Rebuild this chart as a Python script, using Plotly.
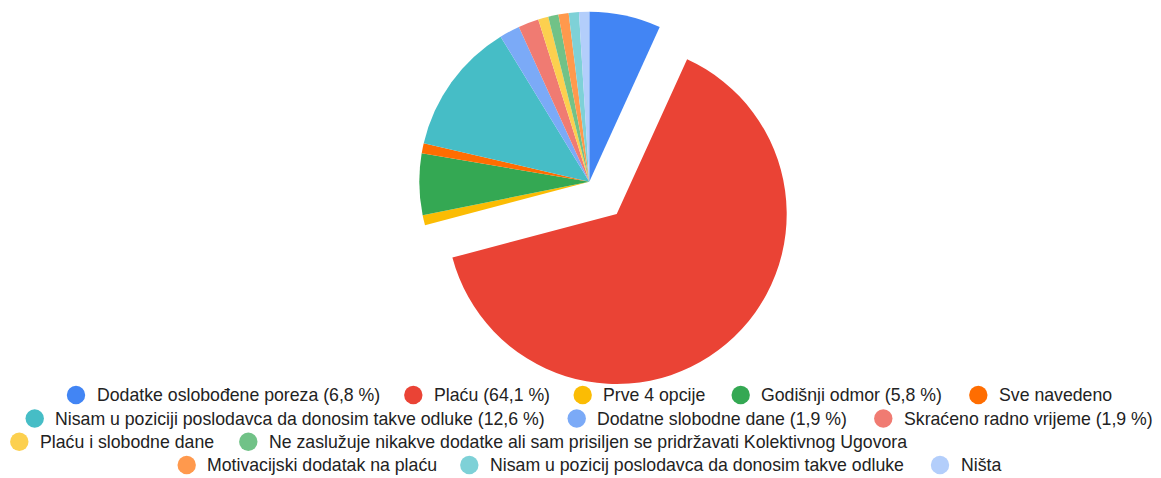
import plotly.graph_objects as go

# ---- data ----
labels = [
    "Dodatke oslobođene poreza", "Plaću", "Prve 4 opcije", "Godišnji odmor",
    "Sve navedeno", "Nisam u poziciji poslodavca da donosim takve odluke",
    "Dodatne slobodne dane", "Skraćeno radno vrijeme", "Plaću i slobodne dane",
    "Ne zaslužuje nikakve dodatke ali sam prisiljen se pridržavati Kolektivnog Ugovora",
    "Motivacijski dodatak na plaću", "Nisam u pozicij poslodavca da donosim takve odluke",
    "Ništa",
]
legend_labels = [
    "Dodatke oslobođene poreza (6,8 %)", "Plaću (64,1 %)", "Prve 4 opcije",
    "Godišnji odmor (5,8 %)", "Sve navedeno",
    "Nisam u poziciji poslodavca da donosim takve odluke (12,6 %)",
    "Dodatne slobodne dane (1,9 %)", "Skraćeno radno vrijeme (1,9 %)",
    "Plaću i slobodne dane",
    "Ne zaslužuje nikakve dodatke ali sam prisiljen se pridržavati Kolektivnog Ugovora",
    "Motivacijski dodatak na plaću", "Nisam u pozicij poslodavca da donosim takve odluke",
    "Ništa",
]
counts = [7, 66, 1, 6, 1, 13, 2, 2, 1, 1, 1, 1, 1]
colors = ["#4285f4", "#ea4335", "#fbbc04", "#34a853", "#ff6d01", "#46bdc6",
          "#7baaf7", "#f07b72", "#fcd04f", "#71c287", "#ff994d", "#7ed1d7", "#b3cefb"]
exploded = 1  # index of the slice pulled out

# ---- layout constants (pixels) ----
W, H = 1161, 478
R = 170
center = (589.3, 181.7)
pulled_center = (616.7, 214.0)

def domain(cx, cy, r):
    return dict(x=[(cx - r) / W, (cx + r) / W], y=[1 - (cy + r) / H, 1 - (cy - r) / H])

transparent = "rgba(0,0,0,0)"
colors_main = [transparent if i == exploded else c for i, c in enumerate(colors)]
colors_pull = [c if i == exploded else transparent for i, c in enumerate(colors)]

fig = go.Figure()
for cols, (cx, cy) in [(colors_main, center), (colors_pull, pulled_center)]:
    fig.add_trace(go.Pie(
        labels=labels, values=counts, sort=False, direction="clockwise", rotation=0,
        marker=dict(colors=cols, line=dict(width=0)), textinfo="none",
        domain=domain(cx, cy, R), showlegend=False, hoverinfo="label+percent",
    ))

# ---- manual legend (rows as in the reference) ----
legend_rows = [
    (395.0, [(0, 76.0), (1, 413.3), (2, 582.7), (3, 740.7), (4, 978.3)]),
    (418.5, [(5, 34.7), (6, 576.7), (7, 883.3)]),
    (441.8, [(8, 19.3), (9, 248.3)]),
    (465.0, [(10, 186.7), (11, 469.3), (12, 940.0)]),
]
shapes, annotations = [], []
for y, items in legend_rows:
    for idx, x in items:
        shapes.append(dict(
            type="circle", xref="paper", yref="paper", xsizemode="pixel", ysizemode="pixel",
            xanchor=x / W, yanchor=1 - y / H, x0=-9.2, x1=9.2, y0=-9.2, y1=9.2,
            fillcolor=colors[idx], line=dict(width=0),
        ))
        annotations.append(dict(
            xref="paper", yref="paper", x=(x + 18.5) / W, y=1 - y / H,
            xanchor="left", yanchor="middle", showarrow=False, text=legend_labels[idx],
            font=dict(family="Liberation Sans, Arial, sans-serif", size=17.7, color="#222222"),
        ))

fig.update_layout(
    width=W, height=H, margin=dict(l=0, r=0, t=0, b=0),
    paper_bgcolor="white", plot_bgcolor="white",
    shapes=shapes, annotations=annotations, showlegend=False,
)
fig.write_html(
    "out.html", config={"displayModeBar": False},
    post_script="document.body.style.margin='0';document.body.style.overflow='hidden';",
)
